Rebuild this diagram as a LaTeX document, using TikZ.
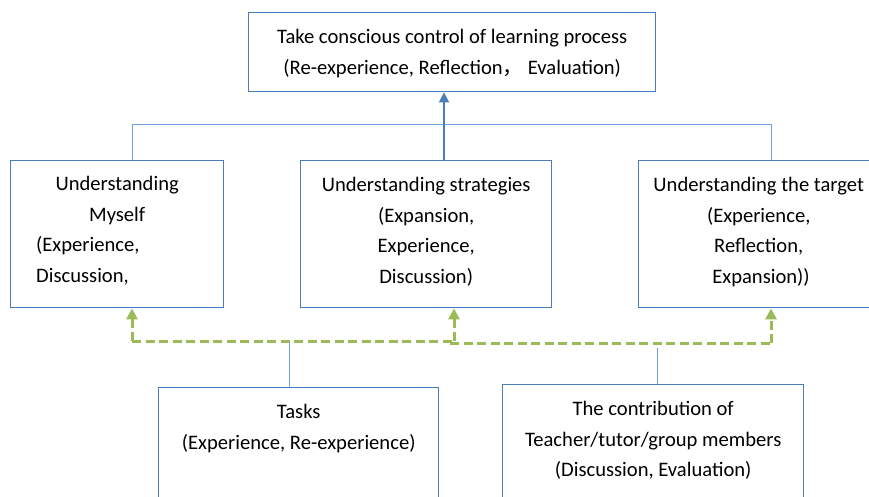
\documentclass[tikz,border=0pt]{standalone}
\usepackage{fontspec}
\setmainfont{Carlito}
\newfontfamily\cjkfont{Noto Sans CJK SC}
\usetikzlibrary{arrows.meta}
\definecolor{boxblue}{HTML}{4A7EBB}
\definecolor{lineblue}{HTML}{6F9FD8}
\definecolor{dgreen}{HTML}{9BBB59}
\begin{document}
\begin{tikzpicture}[x=1pt,y=-1pt,
  box/.style={draw=boxblue, line width=1.4pt, rectangle, inner sep=0pt, anchor=north west},
  txt/.style={anchor=north, inner sep=0pt, align=center, font=\fontsize{20.6}{30.5}\selectfont, execute at begin node=\strut},
  conn/.style={draw=lineblue, line width=1pt},
  uparrow/.style={draw=boxblue, line width=1.6pt, -{Triangle[width=10pt,length=10pt]}},
  gdash/.style={draw=dgreen, line width=3pt, dash pattern=on 9pt off 4.5pt},
  gtip/.style={-{Triangle[width=11pt,length=11pt]}},
]
\clip (0,0) rectangle (869,497);
\fill[white] (0,0) rectangle (869,497);
% boxes
\node[box, minimum width=407pt, minimum height=79pt] (top) at (248,12) {};
\node[box, minimum width=213pt, minimum height=147pt] (L) at (10,160) {};
\node[box, minimum width=251pt, minimum height=147pt] (M) at (300,160) {};
\node[box, minimum width=240pt, minimum height=147pt] (R) at (638,160) {};
\node[box, minimum width=280pt, minimum height=140pt] (T) at (158,387) {};
\node[box, minimum width=301pt, minimum height=140pt] (C) at (502,384) {};
% texts
\node[txt] (toptxt) at ([yshift=-17pt]top.north) {Take conscious control of learning process\\(Re-experience, Reflection{\cjkfont ，} Evaluation)};
\node[txt, align=left, text width=162pt] (Ltxt) at ([yshift=-9pt]L.north) {\makebox[\hsize]{Understanding}\\\makebox[\hsize]{Myself}\\(Experience,\\Discussion,};
\node[txt] (Mtxt) at ([yshift=-17pt]M.north) {Understanding strategies\\(Expansion,\\Experience,\\Discussion)};
\node[txt] (Rtxt) at ([yshift=-17pt]R.north) {Understanding the target\\(Experience,\\Reflection,\\~Expansion))};
\node[txt] (Ttxt) at ([yshift=-17pt]T.north) {Tasks\\(Experience, Re-experience)};
\node[txt] (Ctxt) at ([yshift=-17pt]C.north) {The contribution of\\Teacher/tutor/group members\\(Discussion, Evaluation)};
% blue connectors
\coordinate (j1) at (132,125);
\coordinate (j2) at (444,125);
\coordinate (j3) at (771,125);
\draw[conn] (L.north -| j1) -- (j1) -- (j3) -- (R.north -| j3);
\draw[uparrow] (M.north -| j2) -- (top.south -| j2);
% green dashed connectors
\coordinate (g1) at (132,341);
\coordinate (g2) at (454,341);
\coordinate (g3) at (450,343);
\coordinate (g4) at (771,343);
\draw[gdash] (g1) -- (g2);
\draw[gdash, gtip] (g1) -- (L.south -| g1);
\draw[gdash, gtip] (g2) -- (M.south -| g2);
\draw[gdash] (g3) -- (g4);
\draw[gdash, gtip] (g4) -- (R.south -| g4);
% lower connectors
\coordinate (t1) at (289,342);
\coordinate (c1) at (657,348);
\draw[conn] (t1) -- (T.north -| t1);
\draw[conn] (c1) -- (C.north -| c1);
\end{tikzpicture}
\end{document}
